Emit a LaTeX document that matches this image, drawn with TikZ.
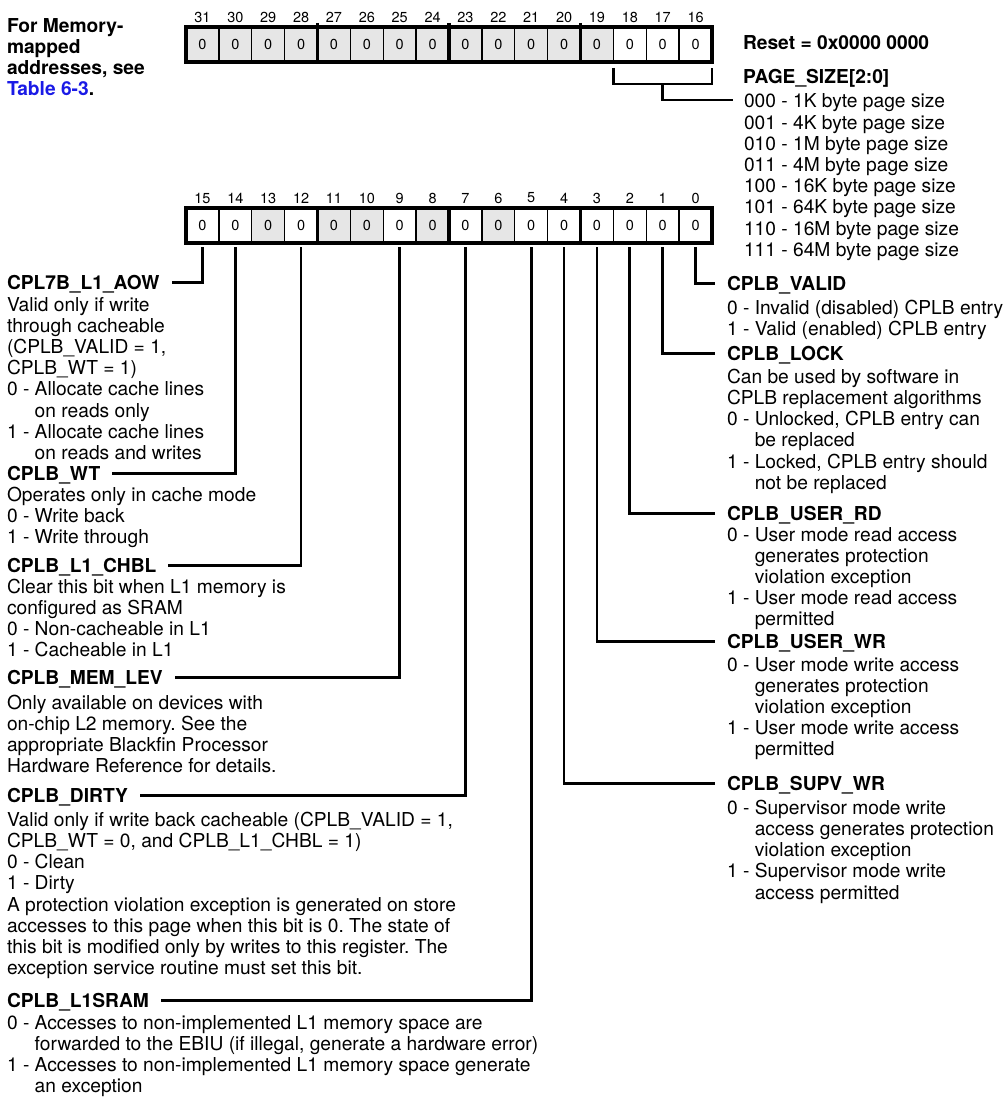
\documentclass[tikz,border=0pt]{standalone}
\usepackage{fontspec}
\setmainfont{TeX Gyre Heros}
\usetikzlibrary{calc}
\definecolor{cellgray}{HTML}{E6E6E6}
\definecolor{linkblue}{HTML}{1A1AE6}
\frenchspacing
\begin{document}
\begin{tikzpicture}[x=1pt, y=-1pt,
    every node/.style={inner sep=0pt, outer sep=0pt},
    % blocks hang from a 15pt strut, so y = first baseline - 15
    txt/.style={font=\fontsize{19.2}{21.2}\selectfont, align=left, anchor=north west,
                execute at begin node={\rule{0pt}{15pt}}},
    note/.style={txt, font=\fontsize{19.2}{21}\selectfont\bfseries},
    fld/.style={font=\fontsize{19.2}{21.2}\selectfont\bfseries, anchor=base west,
                text height=13.6pt, text depth=0pt},
    bitno/.style={font=\fontsize{14.5}{16}\selectfont},
    cell/.style={draw, line width=1.4pt, minimum width=32.875pt, minimum height=35pt,
                 font=\fontsize{14.5}{16}\selectfont},
    frame/.style={line width=3.6pt},
    wire/.style={line width=2.8pt},
]
\useasboundingbox (0,0) rectangle (1007,1097);
\def\cw{32.875}
\newcommand{\ind}{\hphantom{0 - }}

% upper half of the register, bits 31..16
\foreach \b in {16,...,31}{
    \ifnum\b>18 \def\f{cellgray}\else\def\f{white}\fi
    \pgfmathsetmacro\cx{186+(31.5-\b)*\cw}
    \node[cell, fill=\f] (hi\b) at (\cx, 44.5) {0};
    \node[bitno] (nh\b) at (\cx, 17) {\b};}
\draw[frame] (hi31.north west) rectangle (hi16.south east);
\foreach \b in {28,24,20}
    \draw[frame] ($(hi\b.north east)+(0,-4)$) -- (hi\b.south east);

% lower half, bits 15..0
\foreach \b/\f in {15/white, 14/white, 13/cellgray, 12/white, 11/cellgray, 10/cellgray,
                   9/white, 8/cellgray, 7/white, 6/cellgray, 5/white, 4/white,
                   3/white, 2/white, 1/white, 0/white}{
    \pgfmathsetmacro\cx{186+(15.5-\b)*\cw}
    \node[cell, fill=\f] (lo\b) at (\cx, 225.5) {0};
    \node[bitno] (nl\b) at (\cx, 198) {\b};}
\draw[frame] (lo15.north west) rectangle (lo0.south east);
\foreach \b in {12,8,4}
    \draw[frame] (lo\b.north east) -- (lo\b.south east);

\node[note] (memo) at (7, 19)
     {For Memory-\\mapped\\addresses, see\\\textcolor{linkblue}{Table 6-3}.};

% page size field
\node[fld] (reset) at (743, 50) {Reset = 0x0000 0000};
\node[fld] (psz) at (743, 84) {PAGE\_SIZE[2:0]};
\node[txt] (pszd) at (744, 94)
     {000 - 1K byte page size\\001 - 4K byte page size\\010 - 1M byte page size\\011 - 4M byte page size\\100 - 16K byte page size\\101 - 64K byte page size\\110 - 16M byte page size\\111 - 64M byte page size};
\coordinate (pszin) at ($(pszd.north west)+(-11,6)$);
\draw[wire] ($(hi18.south west)+(0,6)$) -- ++(0,16) -| ($(hi16.south east)+(0,6)$);
\draw[wire] ($(hi17.south)+(0,22)$) |- (pszin);

% fields on the left
\node[fld] (aow) at (7, 289) {CPL7B\_L1\_AOW};
\node[txt] (aowd) at (7, 297)
     {Valid only if write\\through cacheable\\(CPLB\_VALID = 1,\\CPLB\_WT = 1)\\0 - Allocate cache lines\\\ind on reads only\\1 - Allocate cache lines\\\ind on reads and writes};
\node[fld] (wt) at (7, 480) {CPLB\_WT};
\node[txt] (wtd) at (7, 487)
     {Operates only in cache mode\\0 - Write back\\1 - Write through};
\node[fld] (chbl) at (7, 572) {CPLB\_L1\_CHBL};
\node[txt] (chbld) at (7, 579)
     {Clear this bit when L1 memory is\\configured as SRAM\\0 - Non-cacheable in L1\\1 - Cacheable in L1};
\node[fld] (mlev) at (7, 684) {CPLB\_MEM\_LEV};
\node[txt] (mlevd) at (7, 695)
     {Only available on devices with\\on-chip L2 memory. See the\\appropriate Blackfin Processor\\Hardware Reference for details.};
\node[fld] (dirty) at (7, 802) {CPLB\_DIRTY};
\node[txt] (dirtyd) at (7, 812)
     {Valid only if write back cacheable (CPLB\_VALID = 1,\\CPLB\_WT = 0, and CPLB\_L1\_CHBL = 1)\\0 - Clean\\1 - Dirty\\A protection violation exception is generated on store\\accesses to this page when this bit is 0. The state of\\this bit is modified only by writes to this register. The\\exception service routine must set this bit.};
\node[fld] (sram) at (7, 1007) {CPLB\_L1SRAM};
\node[txt, font=\fontsize{19.2}{21}\selectfont] (sramd) at (7, 1015)
     {0 - Accesses to non-implemented L1 memory space are\\\ind forwarded to the EBIU (if illegal, generate a hardware error)\\1 - Accesses to non-implemented L1 memory space generate\\\ind an exception};

\foreach \b/\n in {15/aow, 14/wt, 12/chbl, 9/mlev, 7/dirty, 5/sram}
    \draw[wire] (lo\b.south) ++(0,4) |- ($(\n.east)+(12,0)$);

% fields on the right
\node[fld] (valid) at (727, 290) {CPLB\_VALID};
\node[txt] (validd) at (727, 300)
     {0 - Invalid (disabled) CPLB entry\\1 - Valid (enabled) CPLB entry};
\node[fld] (lock) at (727, 360) {CPLB\_LOCK};
\node[txt] (lockd) at (727, 369)
     {Can be used by software in\\CPLB replacement algorithms\\0 - Unlocked, CPLB entry can\\\ind be replaced\\1 - Locked, CPLB entry should\\\ind not be replaced};
\node[fld] (urd) at (727, 520) {CPLB\_USER\_RD};
\node[txt] (urdd) at (727, 527)
     {0 - User mode read access\\\ind generates protection\\\ind violation exception\\1 - User mode read access\\\ind permitted};
\node[fld] (uwr) at (727, 648) {CPLB\_USER\_WR};
\node[txt] (uwrd) at (727, 657)
     {0 - User mode write access\\\ind generates protection\\\ind violation exception\\1 - User mode write access\\\ind permitted};
\node[fld] (swr) at (727, 790) {CPLB\_SUPV\_WR};
\node[txt] (swrd) at (727, 800)
     {0 - Supervisor mode write\\\ind access generates protection\\\ind violation exception\\1 - Supervisor mode write\\\ind access permitted};

\foreach \b/\n in {0/valid, 1/lock, 2/urd, 3/uwr, 4/swr}
    \draw[wire] (lo\b.south) ++(0,4) |- ($(\n.west)+(-12,0)$);
\end{tikzpicture}
\end{document}
